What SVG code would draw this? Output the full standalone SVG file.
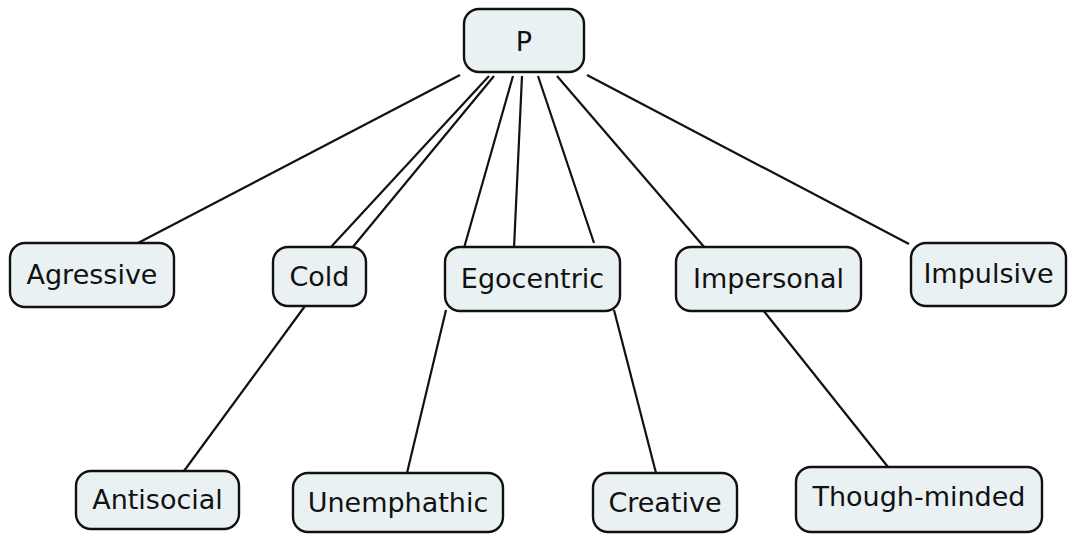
<svg xmlns="http://www.w3.org/2000/svg" width="1077" height="534" viewBox="0 0 1077 534">
  <style>
    .box { fill: #eaf1f3; stroke: #111; stroke-width: 2.4; }
    .lbl { font-family: "DejaVu Sans", Verdana, sans-serif; font-size: 27px; fill: #111; text-anchor: middle; }
    .edge { stroke: #111; stroke-width: 2.2; fill: none; }
  </style>
  <rect width="1077" height="534" fill="#ffffff"/>

  <!-- connectors -->
  <g id="connectors">
    <line class="edge" x1="460" y1="75" x2="138" y2="243"/>
    <line class="edge" x1="489" y1="76" x2="330" y2="248"/>
    <line class="edge" x1="494" y1="76" x2="352" y2="248"/>
    <line class="edge" x1="513" y1="76" x2="464" y2="248"/>
    <line class="edge" x1="522" y1="76" x2="514" y2="248"/>
    <line class="edge" x1="538" y1="76" x2="594" y2="243"/>
    <line class="edge" x1="557" y1="76" x2="705" y2="248"/>
    <line class="edge" x1="587" y1="75" x2="909" y2="244"/>
    <line class="edge" x1="305" y1="306" x2="184" y2="471"/>
    <line class="edge" x1="446" y1="310" x2="407" y2="473"/>
    <line class="edge" x1="614" y1="310" x2="656" y2="473"/>
    <line class="edge" x1="763" y1="310" x2="888" y2="467"/>
  </g>

  <!-- root -->
  <g id="node-p">
    <rect class="box" x="464" y="9" width="120" height="63" rx="15"/>
    <text class="lbl" x="524" y="51">P</text>
  </g>

  <!-- middle row -->
  <g id="node-agressive">
    <rect class="box" x="10" y="243" width="164" height="64" rx="15"/>
    <text class="lbl" x="92" y="284">Agressive</text>
  </g>
  <g id="node-cold">
    <rect class="box" x="273" y="247" width="93" height="59" rx="15"/>
    <text class="lbl" x="319.5" y="286">Cold</text>
  </g>
  <g id="node-egocentric">
    <rect class="box" x="445" y="247" width="175" height="64" rx="15"/>
    <text class="lbl" x="532.5" y="288">Egocentric</text>
  </g>
  <g id="node-impersonal">
    <rect class="box" x="676" y="247" width="185" height="64" rx="15"/>
    <text class="lbl" x="768.5" y="288">Impersonal</text>
  </g>
  <g id="node-impulsive">
    <rect class="box" x="911" y="243" width="155" height="63" rx="15"/>
    <text class="lbl" x="988.5" y="283">Impulsive</text>
  </g>

  <!-- bottom row -->
  <g id="node-antisocial">
    <rect class="box" x="76" y="471" width="163" height="58" rx="15"/>
    <text class="lbl" x="157.5" y="509">Antisocial</text>
  </g>
  <g id="node-unemphathic">
    <rect class="box" x="293" y="473" width="210" height="59" rx="15"/>
    <text class="lbl" x="398" y="512">Unemphathic</text>
  </g>
  <g id="node-creative">
    <rect class="box" x="593" y="473" width="144" height="59" rx="15"/>
    <text class="lbl" x="665" y="512">Creative</text>
  </g>
  <g id="node-though-minded">
    <rect class="box" x="796" y="467" width="246" height="65" rx="15"/>
    <text class="lbl" x="919" y="506">Though-minded</text>
  </g>
</svg>
